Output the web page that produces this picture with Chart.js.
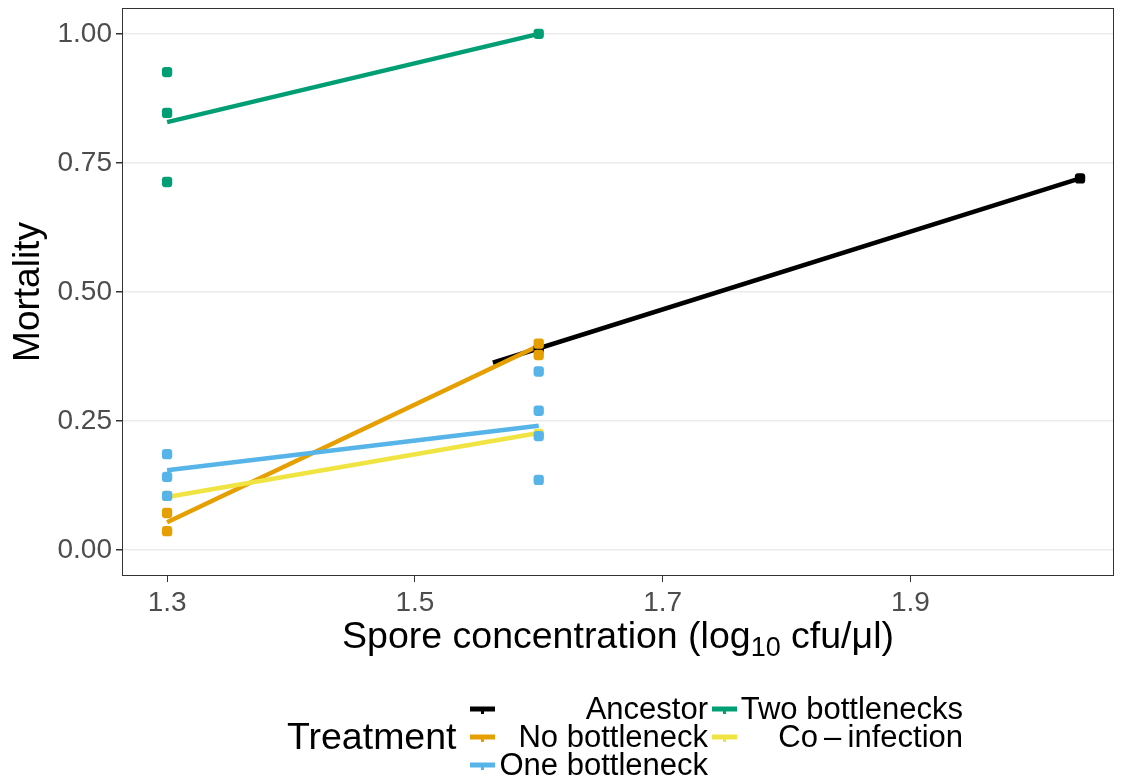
<!DOCTYPE html>
<html>
<head>
<meta charset="utf-8">
<script src="https://cdn.jsdelivr.net/npm/chart.js@4.4.1/dist/chart.umd.min.js"></script>
<style>
  body { margin: 0; background: #fff; }
  #wrap { width: 1126px; height: 782px; position: relative; }
</style>
</head>
<body>
<div id="wrap"><canvas id="mortality-chart"></canvas></div>
<script>
// axis ticks
const xTicks = [1.3, 1.5, 1.7, 1.9];
const yTicks = [0, 0.25, 0.5, 0.75, 1.0];

const treatments = ["Ancestor", "No bottleneck", "One bottleneck", "Two bottlenecks", "Co\u2009\u2013\u2009infection"];
const colours = ["#000000", "#E69F00", "#56B4E9", "#009E73", "#F0E442"];

// observed mortality per dose (x = log10 spore conc)
const ancestorPts = [[1.6, 0.39], [2.037, 0.72]];
const noBottPts = [[1.3, 0.072], [1.3, 0.037], [1.6, 0.40], [1.6, 0.378]];
const oneBottPts = [[1.3, 0.186], [1.3, 0.142], [1.3, 0.105], [1.6, 0.346], [1.6, 0.27], [1.6, 0.221], [1.6, 0.136]];
const twoBottPts = [[1.3, 0.926], [1.3, 0.847], [1.3, 0.713], [1.6, 1.0]];
const coInfPts = [[1.3, 0.105], [1.6, 0.225]];

// fitted lines (start, end)
const ancestorFit = [[1.563, 0.363], [2.037, 0.72]];
const noBottFit = [[1.3, 0.054], [1.6, 0.396]];
const oneBottFit = [[1.3, 0.155], [1.6, 0.241]];
const twoBottFit = [[1.3, 0.829], [1.6, 1.0]];
const coInfFit = [[1.3, 0.103], [1.6, 0.227]];

const allPts = [ancestorPts, noBottPts, oneBottPts, twoBottPts, coInfPts];
const allFits = [ancestorFit, noBottFit, oneBottFit, twoBottFit, coInfFit];
// paint order of point groups (co-infection points sit under the others)
const ptOrder = [4, 0, 1, 2, 3];

const toXY = arr => arr.map(p => ({ x: p[0], y: p[1] }));

let datasets = [];
// chart.js paints index 0 last, so build in paint order then reverse
allFits.forEach((f, i) => {
  datasets.push({
    label: treatments[i] + " fit",
    data: toXY(f),
    showLine: true,
    borderColor: colours[i],
    borderWidth: 4.5,
    pointRadius: 0,
    fill: false
  });
});
ptOrder.forEach(i => {
  datasets.push({
    label: treatments[i],
    data: toXY(allPts[i]),
    showLine: false,
    pointStyle: "rectRounded",
    pointRadius: 6,
    backgroundColor: colours[i],
    borderColor: colours[i],
    borderWidth: 0
  });
});
datasets = datasets.reverse();

const FONT = "'Liberation Sans', Arial, sans-serif";

const decorations = {
  id: "decorations",
  afterDraw(chart) {
    const ctx = chart.ctx;
    const a = chart.chartArea;
    ctx.save();
    // panel border
    ctx.strokeStyle = "#333333";
    ctx.lineWidth = 1;
    ctx.strokeRect(a.left + 0.5, a.top + 0.5, a.right - a.left - 1, a.bottom - a.top - 1);

    // x title with subscript
    ctx.fillStyle = "#000";
    ctx.textBaseline = "alphabetic";
    ctx.textAlign = "left";
    const big = "37.5px " + FONT, small = "27px " + FONT;
    const p1 = "Spore concentration (log", p2 = "10", p3 = " cfu/\u03bcl)";
    ctx.font = big; const w1 = ctx.measureText(p1).width, w3 = ctx.measureText(p3).width;
    ctx.font = small; const w2 = ctx.measureText(p2).width;
    let x0 = (a.left + a.right) / 2 - (w1 + w2 + w3) / 2;
    const by = 648;
    ctx.font = big; ctx.fillText(p1, x0, by);
    ctx.font = small; ctx.fillText(p2, x0 + w1, by + 8);
    ctx.font = big; ctx.fillText(p3, x0 + w1 + w2, by);

    // y title
    ctx.save();
    ctx.translate(39, (a.top + a.bottom) / 2);
    ctx.rotate(-Math.PI / 2);
    ctx.textAlign = "center";
    ctx.font = "37px " + FONT;
    ctx.fillText("Mortality", 0, 0);
    ctx.restore();

    // legend
    ctx.textBaseline = "middle";
    ctx.font = "37.5px " + FONT;
    ctx.textAlign = "left";
    ctx.fillText("Treatment", 287, 739);
    const rows = [709, 737, 765];
    const cols = [{ key: 470, right: 708 }, { key: 712, right: 963 }];
    const slots = [[0, 0], [0, 1], [0, 2], [1, 0], [1, 1]];
    ctx.font = "31px " + FONT;
    slots.forEach((s, i) => {
      const c = cols[s[0]], y = rows[s[1]];
      ctx.strokeStyle = colours[i];
      ctx.lineWidth = 5;
      ctx.beginPath();
      ctx.moveTo(c.key, y); ctx.lineTo(c.key + 25, y);
      ctx.stroke();
      ctx.fillStyle = colours[i];
      ctx.fillRect(c.key + 11, y - 2, 3, 7);
      ctx.fillStyle = "#000";
      ctx.textAlign = "right";
      ctx.fillText(treatments[i], c.right, y + 1);
    });
    ctx.restore();
  }
};

new Chart(document.getElementById("mortality-chart"), {
  type: "scatter",
  data: { datasets: datasets },
  options: {
    responsive: true,
    maintainAspectRatio: false,
    animation: false,
    layout: { padding: { left: 0, top: 8, right: 12, bottom: 116 } },
    plugins: { legend: { display: false }, tooltip: { enabled: false } },
    scales: {
      x: {
        type: "linear",
        min: 1.2636,
        max: 2.0644,
        afterBuildTicks: s => { s.ticks = xTicks.map(v => ({ value: v })); },
        afterFit: s => { s.height = 90; s.paddingLeft = 0; s.paddingRight = 0; },
        grid: { drawOnChartArea: false, drawTicks: true, tickLength: 6, tickColor: "#333333" },
        border: { display: false },
        ticks: {
          color: "#4d4d4d",
          padding: 4,
          font: { family: FONT, size: 28 },
          callback: v => v.toFixed(1)
        }
      },
      y: {
        min: -0.05,
        max: 1.05,
        afterBuildTicks: s => { s.ticks = yTicks.map(v => ({ value: v })); },
        afterFit: s => { s.width = 122; s.paddingTop = 0; s.paddingBottom = 0; },
        grid: { color: "#ebebeb", lineWidth: 1.5, drawTicks: true, tickLength: 6, tickColor: "#333333" },
        border: { display: false },
        ticks: {
          color: "#4d4d4d",
          padding: 4,
          font: { family: FONT, size: 28 },
          callback: v => v.toFixed(2)
        }
      }
    }
  },
  plugins: [decorations]
});
</script>
</body>
</html>
